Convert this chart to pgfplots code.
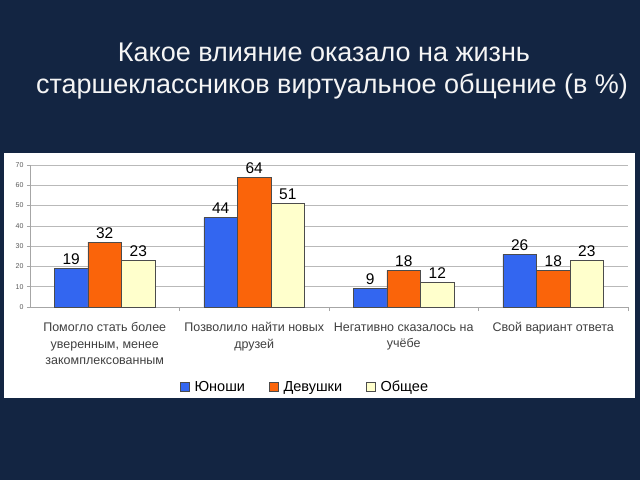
\documentclass[border=0pt]{standalone}
\usepackage{pgfplots}
\pgfplotsset{compat=1.18}
\usepackage{fontspec}
\setmainfont{Liberation Sans}
\definecolor{bg}{RGB}{19,37,66}
\definecolor{cblue}{RGB}{51,102,240}
\definecolor{corange}{RGB}{250,100,10}
\definecolor{ccream}{RGB}{255,255,204}
\begin{document}
\begin{tikzpicture}[x=1pt,y=1pt]
\fill[bg] (0,0) rectangle (640,480);
\fill[white] (4,82) rectangle (635,327);
\node[anchor=base,text=white!92!gray,font=\fontsize{27}{32}\selectfont,inner sep=0pt] at (324,418) {Какое влияние оказало на жизнь};
\node[anchor=base,text=white!92!gray,font=\fontsize{27}{32}\selectfont,inner sep=0pt] at (332,386) {старшеклассников виртуальное общение (в \%)};
\begin{axis}[
  at={(30pt,173pt)}, anchor=south west, scale only axis,
  width=598pt, height=142pt,
  xmin=-0.5, xmax=3.5, ymin=0, ymax=70,
  ybar=0pt, bar width=33.6pt,
  axis x line*=bottom, axis y line*=left,
  axis line style={draw=gray!70, line width=0.6pt},
  ymajorgrids, grid style={draw=gray!55, line width=0.7pt},
  ytick={0,10,...,70},
  xtick={0,1,2,3},
  minor xtick={0.5,1.5,2.5,3.5},
  tick align=outside,
  major tick length=3pt, minor tick length=4pt,
  major x tick style={draw=none},
  minor x tick style={draw=gray!70, line width=0.6pt},
  major y tick style={draw=gray!70, line width=0.6pt},
  /pgf/number format/assume math mode=true,
  yticklabel style={font=\fontsize{7}{8}\selectfont, text=gray!70!black},
  xticklabels={{Помогло стать более\\уверенным, менее\\закомплексованным},{Позволило найти новых\\друзей},{Негативно сказалось на\\учёбе},{Свой вариант ответа}},
  xticklabel style={align=center, font=\fontsize{12.5}{16.5}\selectfont, text=black!75, yshift=-9pt},
  nodes near coords,
  every node near coord/.append style={font=\fontsize{15.5}{17}\selectfont, text=black, inner ysep=3.5pt},
  legend style={at={(0.46,-0.563)}, anchor=center, draw=none, fill=none,
    legend columns=3, font=\fontsize{14.5}{16}\selectfont,
    /tikz/every even column/.append style={column sep=22pt},
    /tikz/every odd column/.append style={column sep=3pt}},
  legend image code/.code={\draw[#1,draw=black!70,line width=0.5pt] (0pt,-4.5pt) rectangle (9pt,4.5pt);},
]
\addplot[fill=cblue, draw=black!70, line width=0.5pt] coordinates {(0,19) (1,44) (2,9) (3,26)};
\addplot[fill=corange, draw=black!70, line width=0.5pt] coordinates {(0,32) (1,64) (2,18) (3,18)};
\addplot[fill=ccream, draw=black!70, line width=0.5pt] coordinates {(0,23) (1,51) (2,12) (3,23)};
\legend{Юноши, Девушки, Общее}
\end{axis}
\end{tikzpicture}
\end{document}
